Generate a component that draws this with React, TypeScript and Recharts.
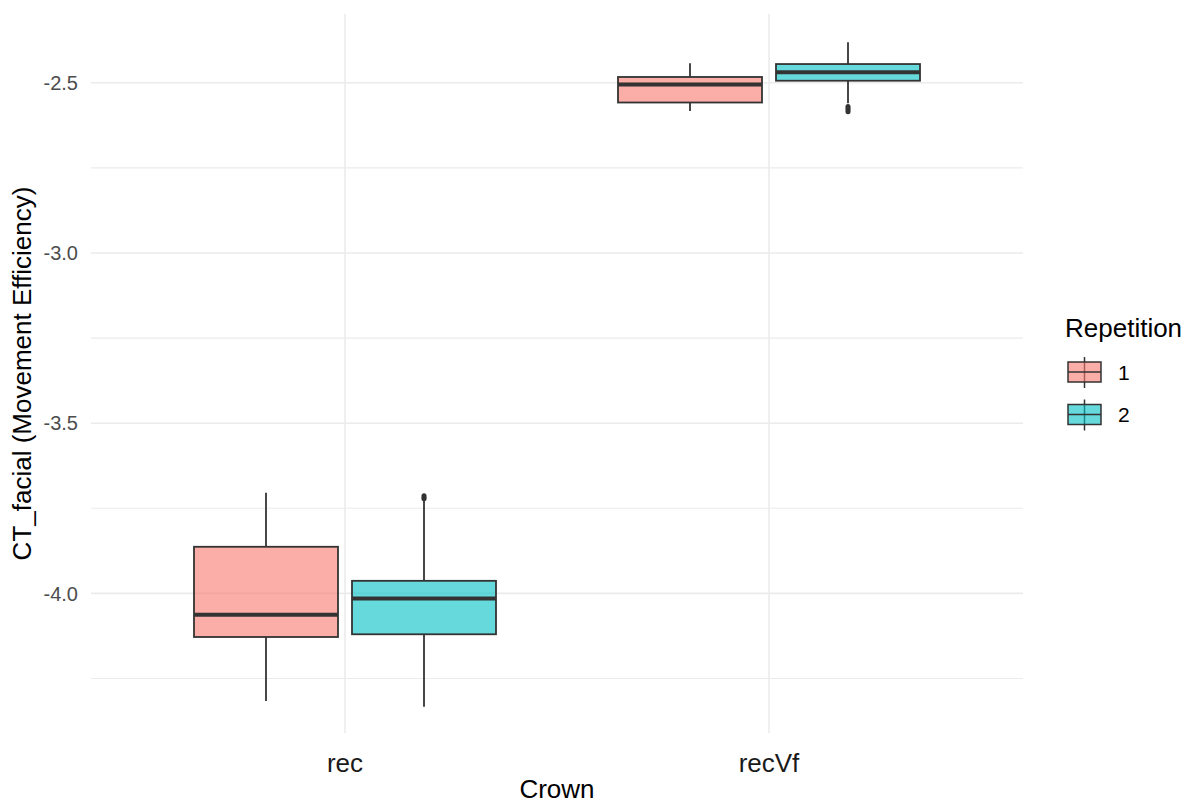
import React from "react";
import { ComposedChart, Bar, XAxis, YAxis, CartesianGrid } from "recharts";

const crowns = ["rec", "recVf"];
const repetitions = ["1", "2"];

// box stats per crown (rec, recVf)
const rep1Low = [-4.316, -2.583];
const rep1Q1 = [-4.128, -2.558];
const rep1Median = [-4.063, -2.505];
const rep1Q3 = [-3.863, -2.483];
const rep1High = [-3.704, -2.443];
const rep1Outliers: number[][] = [[], []];

const rep2Low = [-4.333, -2.56];
const rep2Q1 = [-4.12, -2.494];
const rep2Median = [-4.015, -2.469];
const rep2Q3 = [-3.963, -2.445];
const rep2High = [-3.728, -2.381];
const rep2Outliers: number[][] = [
  [-3.722, -3.718, -3.713],
  [-2.57, -2.575, -2.58, -2.585],
];

const yTicks = [-4, -3.5, -3, -2.5];
const yMinorTicks = [-4.25, -3.75, -3.25, -2.75];

const colors = ["#F8766D", "#00BFC4"];
const FONT = "'Liberation Sans', Arial, Helvetica, sans-serif";

const data = crowns.map((crown, i) => ({
  crown,
  r1: [rep1Low[i], rep1High[i]],
  r2: [rep2Low[i], rep2High[i]],
  s1: {
    low: rep1Low[i],
    q1: rep1Q1[i],
    med: rep1Median[i],
    q3: rep1Q3[i],
    high: rep1High[i],
    out: rep1Outliers[i],
  },
  s2: {
    low: rep2Low[i],
    q1: rep2Q1[i],
    med: rep2Median[i],
    q3: rep2Q3[i],
    high: rep2High[i],
    out: rep2Outliers[i],
  },
}));

const BoxShape = (props: any) => {
  const { x, y, width, height, payload, rep } = props;
  const s = payload[`s${rep}`];
  const top = Math.min(y, y + height);
  const h = Math.abs(height);
  // value -> pixel, from the bar's scaled low..high extent
  const yOf = (v: number) => top + ((s.high - v) / (s.high - s.low)) * h;
  const cx = x + width / 2;
  const fill = colors[rep - 1];
  return (
    <g>
      <line x1={cx} x2={cx} y1={yOf(s.high)} y2={yOf(s.q3)} stroke="#333333" strokeWidth={1.8} />
      <line x1={cx} x2={cx} y1={yOf(s.q1)} y2={yOf(s.low)} stroke="#333333" strokeWidth={1.8} />
      <rect
        x={x}
        y={yOf(s.q3)}
        width={width}
        height={yOf(s.q1) - yOf(s.q3)}
        fill={fill}
        fillOpacity={0.6}
        stroke="#333333"
        strokeWidth={1.8}
      />
      <line x1={x} x2={x + width} y1={yOf(s.med)} y2={yOf(s.med)} stroke="#333333" strokeWidth={4} />
      {s.out.map((v: number, k: number) => (
        <circle key={k} cx={cx} cy={yOf(v)} r={2.5} fill="#333333" />
      ))}
    </g>
  );
};

const LegendKey = ({ y, color }: { y: number; color: string }) => (
  <g>
    <line x1={1084.5} x2={1084.5} y1={y - 15} y2={y + 16} stroke="#333333" strokeWidth={1.5} />
    <rect x={1068} y={y - 10} width={33} height={20} fill={color} fillOpacity={0.6} stroke="#333333" strokeWidth={1.5} />
    <line x1={1068} x2={1101} y1={y} y2={y} stroke="#333333" strokeWidth={1.5} />
  </g>
);

const App = () => {
  return (
    <div style={{ position: "absolute", left: 0, top: 0, width: 1189, height: 803, background: "#fff" }}>
      <ComposedChart
        width={1189}
        height={803}
        data={data}
        margin={{ top: 14, right: 166, bottom: 0, left: 0 }}
        barSize={144}
        barGap={14}
        style={{ fontFamily: FONT }}
      >
        <CartesianGrid
          vertical={false}
          syncWithTicks
          horizontalValues={yMinorTicks}
          stroke="#EBEBEB"
          strokeWidth={1.1}
        />
        <CartesianGrid
          syncWithTicks
          horizontalValues={yTicks}
          stroke="#EBEBEB"
          strokeWidth={1.6}
        />
        <XAxis
          dataKey="crown"
          type="category"
          padding={{ left: 42, right: 42 }}
          height={70}
          axisLine={false}
          tickLine={false}
          tickSize={0}
          tickMargin={21}
          tick={{ fill: "#1A1A1A", fontSize: 26, fontFamily: FONT }}
          label={{
            content: (p: any) => {
              const vb = p.viewBox;
              return (
                <text x={vb.x + vb.width / 2} y={vb.y + 65} textAnchor="middle" fontSize={26} fill="#000" fontFamily={FONT}>
                  Crown
                </text>
              );
            },
          }}
        />
        <YAxis
          type="number"
          domain={[-4.41, -2.298]}
          allowDataOverflow
          ticks={yTicks}
          tickFormatter={(v: number) => v.toFixed(1)}
          width={91}
          axisLine={false}
          tickLine={false}
          tickSize={0}
          tickMargin={13}
          tick={{ fill: "#4D4D4D", fontSize: 20, fontFamily: FONT }}
          label={{
            content: (p: any) => {
              const vb = p.viewBox;
              const cy = vb.y + vb.height / 2;
              return (
                <text
                  x={31}
                  y={cy}
                  transform={`rotate(-90, 31, ${cy})`}
                  textAnchor="middle"
                  fontSize={26}
                  fill="#000"
                  fontFamily={FONT}
                >
                  CT_facial (Movement Efficiency)
                </text>
              );
            },
          }}
        />
        <Bar dataKey="r1" name="1" isAnimationActive={false} shape={(p: any) => <BoxShape {...p} rep={1} />} />
        <Bar dataKey="r2" name="2" isAnimationActive={false} shape={(p: any) => <BoxShape {...p} rep={2} />} />
      </ComposedChart>
      <svg
        width={1189}
        height={803}
        style={{ position: "absolute", left: 0, top: 0, pointerEvents: "none", fontFamily: FONT }}
      >
        <text x={1065} y={337} fontSize={26} fill="#000">
          Repetition
        </text>
        {repetitions.map((r, i) => (
          <g key={r}>
            <LegendKey y={372 + i * 42.5} color={colors[i]} />
            <text x={1118} y={372 + i * 42.5 + 7.5} fontSize={21} fill="#000">
              {r}
            </text>
          </g>
        ))}
      </svg>
    </div>
  );
};

export default App;
